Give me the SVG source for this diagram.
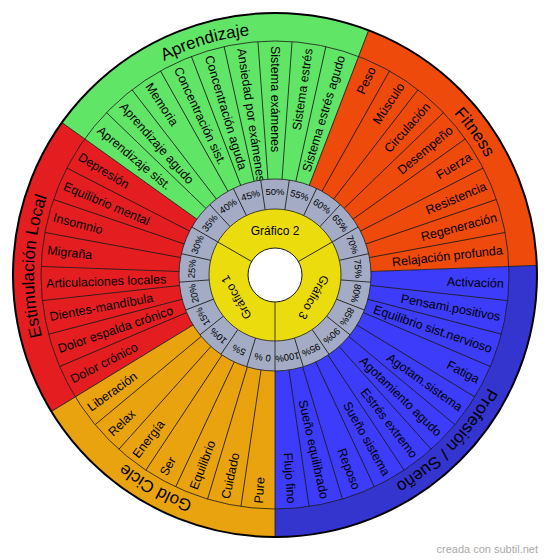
<svg xmlns="http://www.w3.org/2000/svg" xmlns:xlink="http://www.w3.org/1999/xlink" width="550" height="560" viewBox="0 0 550 560">
<style>
.sep{stroke:#1a1a1a;stroke-width:0.8;fill:none}
.item{font-family:"Liberation Sans",Arial,sans-serif;font-size:12.5px;fill:#000}
.l{text-anchor:start}
.r{text-anchor:end}
.pct{font-family:"Liberation Sans",Arial,sans-serif;font-size:9.5px;fill:#000;text-anchor:middle}
.graf{font-family:"Liberation Sans",Arial,sans-serif;font-size:12px;fill:#000;text-anchor:middle}
.cat{font-family:"Liberation Sans",Arial,sans-serif;font-size:17px;fill:#000;text-anchor:middle}
</style>
<defs>
<path id="pGold" d="M275,516 A241,241 0 0 1 69.29,400.55"/>
<path id="pRed" d="M69.29,400.55 A241,241 0 0 1 79.00,134.77"/>
<path id="pGreen" d="M79.00,134.77 A241,241 0 0 1 361.09,49.90"/>
<path id="pOrange" d="M361.09,49.90 A241,241 0 0 1 515.84,266.20"/>
<path id="pBlue" d="M515.84,266.20 A241,241 0 0 1 275,516"/>
</defs>
<rect width="550" height="560" fill="#ffffff"/>

<g id="sector-gold">
<path d="M275,275 L275,537 A262,262 0 0 1 51.37,411.49 Z" fill="#e9a30f"/>
<text class="cat"><textPath xlink:href="#pGold" href="#pGold" startOffset="50%">Gold Cicle</textPath></text>
</g>
<g id="sector-red">
<path d="M275,275 L51.37,411.49 A262,262 0 0 1 61.92,122.55 Z" fill="#e41e20"/>
<text class="cat"><textPath xlink:href="#pRed" href="#pRed" startOffset="50%">Estimulación Local</textPath></text>
</g>
<g id="sector-green">
<path d="M275,275 L61.92,122.55 A262,262 0 0 1 368.59,30.29 Z" fill="#60e566"/>
<text class="cat"><textPath xlink:href="#pGreen" href="#pGreen" startOffset="50%">Aprendizaje</textPath></text>
</g>
<g id="sector-orange">
<path d="M275,275 L368.59,30.29 A262,262 0 0 1 536.82,265.43 Z" fill="#ed4a0c"/>
<text class="cat"><textPath xlink:href="#pOrange" href="#pOrange" startOffset="50%">Fitness</textPath></text>
</g>
<g id="sector-blue">
<path d="M275,275 L536.82,265.43 A262,262 0 0 1 275,537 Z" fill="#3c3cfa"/>
<path d="M536.82,265.43 A262,262 0 0 1 275,537 L275,509 A234,234 0 0 0 508.84,266.45 Z" fill="#3434cf"/>
<text class="cat"><textPath xlink:href="#pBlue" href="#pBlue" startOffset="50%">Profesión / Sueño</textPath></text>
</g>

<g id="items">
<text class="item l" x="46" y="275" dy="0.35em" transform="rotate(274.186 275 275)">Pure</text>
<text class="item l" x="46" y="275" dy="0.35em" transform="rotate(282.558 275 275)">Cuidado</text>
<text class="item l" x="46" y="275" dy="0.35em" transform="rotate(290.930 275 275)">Equilibrio</text>
<text class="item l" x="46" y="275" dy="0.35em" transform="rotate(299.302 275 275)">Ser</text>
<text class="item l" x="46" y="275" dy="0.35em" transform="rotate(307.674 275 275)">Energía</text>
<text class="item l" x="46" y="275" dy="0.35em" transform="rotate(316.047 275 275)">Relax</text>
<text class="item l" x="46" y="275" dy="0.35em" transform="rotate(324.419 275 275)">Liberación</text>
<text class="item l" x="46" y="275" dy="0.35em" transform="rotate(332.791 275 275)">Dolor crónico</text>
<text class="item l" x="46" y="275" dy="0.35em" transform="rotate(341.163 275 275)">Dolor espalda crónico</text>
<text class="item l" x="46" y="275" dy="0.35em" transform="rotate(349.535 275 275)">Dientes-mandíbula</text>
<text class="item l" x="46" y="275" dy="0.35em" transform="rotate(357.907 275 275)">Articulaciones locales</text>
<text class="item l" x="46" y="275" dy="0.35em" transform="rotate(366.279 275 275)">Migraña</text>
<text class="item l" x="46" y="275" dy="0.35em" transform="rotate(374.651 275 275)">Insomnio</text>
<text class="item l" x="46" y="275" dy="0.35em" transform="rotate(383.023 275 275)">Equilibrio mental</text>
<text class="item l" x="46" y="275" dy="0.35em" transform="rotate(391.395 275 275)">Depresión</text>
<text class="item l" x="46" y="275" dy="0.35em" transform="rotate(399.767 275 275)">Aprendizaje sist.</text>
<text class="item l" x="46" y="275" dy="0.35em" transform="rotate(408.140 275 275)">Aprendizaje agudo</text>
<text class="item l" x="46" y="275" dy="0.35em" transform="rotate(416.512 275 275)">Memoria</text>
<text class="item l" x="46" y="275" dy="0.35em" transform="rotate(424.884 275 275)">Concentración sist.</text>
<text class="item l" x="46" y="275" dy="0.35em" transform="rotate(433.256 275 275)">Concentración aguda</text>
<text class="item l" x="46" y="275" dy="0.35em" transform="rotate(441.628 275 275)">Ansiedad por exámenes</text>
<text class="item l" x="46" y="275" dy="0.35em" transform="rotate(450 275 275)">Sistema exámenes</text>
<text class="item r" x="504" y="275" dy="0.35em" transform="rotate(-81.628 275 275)">Sistema estrés</text>
<text class="item r" x="504" y="275" dy="0.35em" transform="rotate(-73.256 275 275)">Sistema estrés agudo</text>
<text class="item r" x="504" y="275" dy="0.35em" transform="rotate(-64.884 275 275)">Peso</text>
<text class="item r" x="504" y="275" dy="0.35em" transform="rotate(-56.512 275 275)">Músculo</text>
<text class="item r" x="504" y="275" dy="0.35em" transform="rotate(-48.140 275 275)">Circulación</text>
<text class="item r" x="504" y="275" dy="0.35em" transform="rotate(-39.767 275 275)">Desempeño</text>
<text class="item r" x="504" y="275" dy="0.35em" transform="rotate(-31.395 275 275)">Fuerza</text>
<text class="item r" x="504" y="275" dy="0.35em" transform="rotate(-23.023 275 275)">Resistencia</text>
<text class="item r" x="504" y="275" dy="0.35em" transform="rotate(-14.651 275 275)">Regeneración</text>
<text class="item r" x="504" y="275" dy="0.35em" transform="rotate(-6.279 275 275)">Relajación profunda</text>
<text class="item r" x="504" y="275" dy="0.35em" transform="rotate(2.093 275 275)">Activación</text>
<text class="item r" x="504" y="275" dy="0.35em" transform="rotate(10.465 275 275)">Pensami.positivos</text>
<text class="item r" x="504" y="275" dy="0.35em" transform="rotate(18.837 275 275)">Equilibrio sist.nervioso</text>
<text class="item r" x="504" y="275" dy="0.35em" transform="rotate(27.209 275 275)">Fatiga</text>
<text class="item r" x="504" y="275" dy="0.35em" transform="rotate(35.581 275 275)">Agotam.sistema</text>
<text class="item r" x="504" y="275" dy="0.35em" transform="rotate(43.953 275 275)">Agotamiento agudo</text>
<text class="item r" x="504" y="275" dy="0.35em" transform="rotate(52.326 275 275)">Estrés extremo</text>
<text class="item r" x="504" y="275" dy="0.35em" transform="rotate(60.698 275 275)">Sueño sistema</text>
<text class="item r" x="504" y="275" dy="0.35em" transform="rotate(69.070 275 275)">Reposo</text>
<text class="item r" x="504" y="275" dy="0.35em" transform="rotate(77.442 275 275)">Sueño equilibrado</text>
<text class="item r" x="504" y="275" dy="0.35em" transform="rotate(85.814 275 275)">Flujo fino</text>
</g>

<g id="connectors">
<circle class="sep" cx="275" cy="275" r="234"/>
<g>
<line class="sep" x1="275" y1="13" x2="275" y2="179" transform="rotate(180 275 275)"/>
<line class="sep" x1="275" y1="41" x2="275" y2="179" transform="rotate(188.3721 275 275)"/>
<line class="sep" x1="275" y1="41" x2="275" y2="179" transform="rotate(196.7442 275 275)"/>
<line class="sep" x1="275" y1="41" x2="275" y2="179" transform="rotate(205.1163 275 275)"/>
<line class="sep" x1="275" y1="41" x2="275" y2="179" transform="rotate(213.4884 275 275)"/>
<line class="sep" x1="275" y1="41" x2="275" y2="179" transform="rotate(221.8605 275 275)"/>
<line class="sep" x1="275" y1="41" x2="275" y2="179" transform="rotate(230.2326 275 275)"/>
<line class="sep" x1="275" y1="13" x2="275" y2="179" transform="rotate(238.6047 275 275)"/>
<line class="sep" x1="275" y1="41" x2="275" y2="179" transform="rotate(246.9767 275 275)"/>
<line class="sep" x1="275" y1="41" x2="275" y2="179" transform="rotate(255.3488 275 275)"/>
<line class="sep" x1="275" y1="41" x2="275" y2="179" transform="rotate(263.7209 275 275)"/>
<line class="sep" x1="275" y1="41" x2="275" y2="179" transform="rotate(272.0930 275 275)"/>
<line class="sep" x1="275" y1="41" x2="275" y2="179" transform="rotate(280.4651 275 275)"/>
<line class="sep" x1="275" y1="41" x2="275" y2="179" transform="rotate(288.8372 275 275)"/>
<line class="sep" x1="275" y1="41" x2="275" y2="179" transform="rotate(297.2093 275 275)"/>
<line class="sep" x1="275" y1="13" x2="275" y2="179" transform="rotate(305.5814 275 275)"/>
<line class="sep" x1="275" y1="41" x2="275" y2="179" transform="rotate(313.9535 275 275)"/>
<line class="sep" x1="275" y1="41" x2="275" y2="179" transform="rotate(322.3256 275 275)"/>
<line class="sep" x1="275" y1="41" x2="275" y2="179" transform="rotate(330.6977 275 275)"/>
<line class="sep" x1="275" y1="41" x2="275" y2="179" transform="rotate(339.0698 275 275)"/>
<line class="sep" x1="275" y1="41" x2="275" y2="179" transform="rotate(347.4419 275 275)"/>
<line class="sep" x1="275" y1="41" x2="275" y2="179" transform="rotate(355.8140 275 275)"/>
<line class="sep" x1="275" y1="41" x2="275" y2="179" transform="rotate(364.1860 275 275)"/>
<line class="sep" x1="275" y1="41" x2="275" y2="179" transform="rotate(372.5581 275 275)"/>
<line class="sep" x1="275" y1="13" x2="275" y2="179" transform="rotate(380.9302 275 275)"/>
<line class="sep" x1="275" y1="41" x2="275" y2="179" transform="rotate(389.3023 275 275)"/>
<line class="sep" x1="275" y1="41" x2="275" y2="179" transform="rotate(397.6744 275 275)"/>
<line class="sep" x1="275" y1="41" x2="275" y2="179" transform="rotate(406.0465 275 275)"/>
<line class="sep" x1="275" y1="41" x2="275" y2="179" transform="rotate(414.4186 275 275)"/>
<line class="sep" x1="275" y1="41" x2="275" y2="179" transform="rotate(422.7907 275 275)"/>
<line class="sep" x1="275" y1="41" x2="275" y2="179" transform="rotate(431.1628 275 275)"/>
<line class="sep" x1="275" y1="41" x2="275" y2="179" transform="rotate(439.5349 275 275)"/>
<line class="sep" x1="275" y1="13" x2="275" y2="179" transform="rotate(447.9070 275 275)"/>
<line class="sep" x1="275" y1="41" x2="275" y2="179" transform="rotate(456.2791 275 275)"/>
<line class="sep" x1="275" y1="41" x2="275" y2="179" transform="rotate(464.6512 275 275)"/>
<line class="sep" x1="275" y1="41" x2="275" y2="179" transform="rotate(473.0233 275 275)"/>
<line class="sep" x1="275" y1="41" x2="275" y2="179" transform="rotate(481.3953 275 275)"/>
<line class="sep" x1="275" y1="41" x2="275" y2="179" transform="rotate(489.7674 275 275)"/>
<line class="sep" x1="275" y1="41" x2="275" y2="179" transform="rotate(498.1395 275 275)"/>
<line class="sep" x1="275" y1="41" x2="275" y2="179" transform="rotate(506.5116 275 275)"/>
<line class="sep" x1="275" y1="41" x2="275" y2="179" transform="rotate(514.8837 275 275)"/>
<line class="sep" x1="275" y1="41" x2="275" y2="179" transform="rotate(523.2558 275 275)"/>
<line class="sep" x1="275" y1="41" x2="275" y2="179" transform="rotate(531.6279 275 275)"/>
</g>
</g>

<circle cx="275" cy="275" r="262" fill="none" stroke="#000" stroke-width="2"/>

<g id="percent-ring">
<circle cx="275" cy="275" r="96" fill="#a3acc4" stroke="#1a1a1a" stroke-width="0.8"/>
<g class="sep">
<line x1="275" y1="179" x2="275" y2="209" transform="rotate(180 275 275)"/>
<line x1="275" y1="179" x2="275" y2="209" transform="rotate(197.1429 275 275)"/>
<line x1="275" y1="179" x2="275" y2="209" transform="rotate(214.2857 275 275)"/>
<line x1="275" y1="179" x2="275" y2="209" transform="rotate(231.4286 275 275)"/>
<line x1="275" y1="179" x2="275" y2="209" transform="rotate(248.5714 275 275)"/>
<line x1="275" y1="179" x2="275" y2="209" transform="rotate(265.7143 275 275)"/>
<line x1="275" y1="179" x2="275" y2="209" transform="rotate(282.8571 275 275)"/>
<line x1="275" y1="179" x2="275" y2="209" transform="rotate(300 275 275)"/>
<line x1="275" y1="179" x2="275" y2="209" transform="rotate(317.1429 275 275)"/>
<line x1="275" y1="179" x2="275" y2="209" transform="rotate(334.2857 275 275)"/>
<line x1="275" y1="179" x2="275" y2="209" transform="rotate(351.4286 275 275)"/>
<line x1="275" y1="179" x2="275" y2="209" transform="rotate(368.5714 275 275)"/>
<line x1="275" y1="179" x2="275" y2="209" transform="rotate(385.7143 275 275)"/>
<line x1="275" y1="179" x2="275" y2="209" transform="rotate(402.8571 275 275)"/>
<line x1="275" y1="179" x2="275" y2="209" transform="rotate(420 275 275)"/>
<line x1="275" y1="179" x2="275" y2="209" transform="rotate(437.1429 275 275)"/>
<line x1="275" y1="179" x2="275" y2="209" transform="rotate(454.2857 275 275)"/>
<line x1="275" y1="179" x2="275" y2="209" transform="rotate(471.4286 275 275)"/>
<line x1="275" y1="179" x2="275" y2="209" transform="rotate(488.5714 275 275)"/>
<line x1="275" y1="179" x2="275" y2="209" transform="rotate(505.7143 275 275)"/>
<line x1="275" y1="179" x2="275" y2="209" transform="rotate(522.8571 275 275)"/>
</g>
<text class="pct" x="275" y="195" transform="rotate(188.5714 275 275)">0 %</text>
<text class="pct" x="275" y="195" transform="rotate(205.7143 275 275)">5%</text>
<text class="pct" x="275" y="195" transform="rotate(222.8571 275 275)">10%</text>
<text class="pct" x="275" y="195" transform="rotate(240 275 275)">15%</text>
<text class="pct" x="275" y="195" transform="rotate(257.1429 275 275)">20%</text>
<text class="pct" x="275" y="195" transform="rotate(274.2857 275 275)">25%</text>
<text class="pct" x="275" y="195" transform="rotate(291.4286 275 275)">30%</text>
<text class="pct" x="275" y="195" transform="rotate(308.5714 275 275)">35%</text>
<text class="pct" x="275" y="195" transform="rotate(325.7143 275 275)">40%</text>
<text class="pct" x="275" y="195" transform="rotate(342.8571 275 275)">45%</text>
<text class="pct" x="275" y="195">50%</text>
<text class="pct" x="275" y="195" transform="rotate(377.1429 275 275)">55%</text>
<text class="pct" x="275" y="195" transform="rotate(394.2857 275 275)">60%</text>
<text class="pct" x="275" y="195" transform="rotate(411.4286 275 275)">65%</text>
<text class="pct" x="275" y="195" transform="rotate(428.5714 275 275)">70%</text>
<text class="pct" x="275" y="195" transform="rotate(445.7143 275 275)">75%</text>
<text class="pct" x="275" y="195" transform="rotate(462.8571 275 275)">80%</text>
<text class="pct" x="275" y="195" transform="rotate(480 275 275)">85%</text>
<text class="pct" x="275" y="195" transform="rotate(497.1429 275 275)">90%</text>
<text class="pct" x="275" y="195" transform="rotate(514.2857 275 275)">95%</text>
<text class="pct" x="275" y="195" transform="rotate(531.4286 275 275)">100%</text>
</g>

<g id="graficos">
<circle cx="275" cy="275" r="66" fill="#ebdc0e" stroke="#1a1a1a" stroke-width="0.8"/>
<g class="sep">
<line x1="275" y1="209" x2="275" y2="248" transform="rotate(60 275 275)"/>
<line x1="275" y1="209" x2="275" y2="248" transform="rotate(180 275 275)"/>
<line x1="275" y1="209" x2="275" y2="248" transform="rotate(300 275 275)"/>
</g>
<text class="graf" x="275" y="234.5">Gráfico 2</text>
<text class="graf" x="275" y="234.5" transform="rotate(120 275 275)">Gráfico 3</text>
<text class="graf" x="275" y="234.5" transform="rotate(240 275 275)">Gráfico 1</text>
<circle cx="275" cy="275" r="27" fill="#ffffff" stroke="#1a1a1a" stroke-width="1"/>
</g>

<text x="538" y="553" font-family="Liberation Sans, Arial, sans-serif" font-size="11" fill="#aaaaaa" text-anchor="end">creada con subtil.net</text>
</svg>
